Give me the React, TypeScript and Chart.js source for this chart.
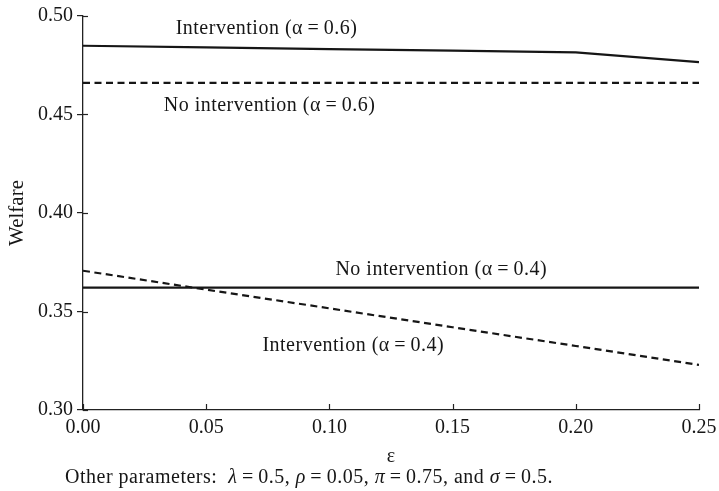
import React, { useEffect, useRef } from "react";
import { Chart, registerables } from "chart.js";

Chart.register(...registerables);

// ---- data ----
const epsilon = [0, 0.05, 0.1, 0.15, 0.2, 0.25];
const interventionHigh = [0.4849, 0.4841, 0.4832, 0.4824, 0.4815, 0.4766];
const noInterventionHigh = [0.4661, 0.4661, 0.4661, 0.4661, 0.4661, 0.4661];
const noInterventionLow = [0.3621, 0.3621, 0.3621, 0.3621, 0.3621, 0.3621];
const interventionLow = [0.3707, 0.3611, 0.3516, 0.342, 0.3325, 0.3229];

const xTicks = [0, 0.05, 0.1, 0.15, 0.2, 0.25];
const yTicks = [0.3, 0.35, 0.4, 0.45, 0.5];

const seriesLabels = [
  "Intervention (α\u2009=\u20090.6)",
  "No intervention (α\u2009=\u20090.6)",
  "No intervention (α\u2009=\u20090.4)",
  "Intervention (α\u2009=\u20090.4)",
];
// label anchors in data units (ε, welfare)
const labelEps = [0.0745, 0.0757, 0.1454, 0.1097];
const labelWelfare = [0.4937, 0.4545, 0.371, 0.3324];

const xTitle = "ε";
const yTitle = "Welfare";
const footnote: { t: string; i?: boolean }[] = [
  { t: "Other parameters:  " },
  { t: "λ", i: true },
  { t: "\u2009=\u20090.5, " },
  { t: "ρ", i: true },
  { t: "\u2009=\u20090.05, " },
  { t: "π", i: true },
  { t: "\u2009=\u20090.75, and " },
  { t: "σ", i: true },
  { t: "\u2009=\u20090.5." },
];

const FONT = '"Liberation Serif", "DejaVu Serif", serif';
const INK = "#161616";

const pts = (ys: number[]) => epsilon.map((x, i) => ({ x, y: ys[i] }));

const overlayPlugin = {
  id: "overlay",
  afterDraw(chart: any) {
    const { ctx, scales } = chart;
    const x = scales.x;
    const y = scales.y;
    ctx.save();
    // inner tick marks
    ctx.strokeStyle = "#222";
    ctx.lineWidth = 1.2;
    for (const v of yTicks) {
      const py = Math.round(y.getPixelForValue(v)) + 0.5;
      ctx.beginPath();
      ctx.moveTo(x.left, py);
      ctx.lineTo(x.left + 5, py);
      ctx.stroke();
    }
    for (const v of xTicks) {
      const px = Math.round(x.getPixelForValue(v)) + 0.5;
      ctx.beginPath();
      ctx.moveTo(px, y.bottom);
      ctx.lineTo(px, y.bottom - 6);
      ctx.stroke();
    }
    // series labels
    ctx.fillStyle = INK;
    ctx.font = `20px ${FONT}`;
    try {
      (ctx as any).letterSpacing = "0.5px";
    } catch (e) {}
    ctx.textAlign = "center";
    ctx.textBaseline = "middle";
    seriesLabels.forEach((t, i) => {
      ctx.fillText(t, x.getPixelForValue(labelEps[i]), y.getPixelForValue(labelWelfare[i]));
    });
    // footnote
    ctx.textAlign = "left";
    let cx = 65;
    const fy = chart.height - 13;
    for (const seg of footnote) {
      ctx.font = `${seg.i ? "italic " : ""}20px ${FONT}`;
      ctx.fillText(seg.t, cx, fy);
      cx += ctx.measureText(seg.t).width;
    }
    ctx.restore();
  },
};

export default function App() {
  const ref = useRef<HTMLCanvasElement | null>(null);
  useEffect(() => {
    if (!ref.current) return;
    const lineBase = {
      borderColor: INK,
      borderWidth: 2.2,
      pointRadius: 0,
      fill: false,
      tension: 0,
    };
    const chart = new Chart(ref.current, {
      type: "line",
      data: {
        datasets: [
          { ...lineBase, label: seriesLabels[0], data: pts(interventionHigh) },
          { ...lineBase, label: seriesLabels[1], data: pts(noInterventionHigh), borderDash: [7, 4.5] },
          { ...lineBase, label: seriesLabels[2], data: pts(noInterventionLow) },
          { ...lineBase, label: seriesLabels[3], data: pts(interventionLow), borderDash: [7, 4.5] },
        ],
      },
      options: {
        animation: false,
        responsive: false,
        devicePixelRatio: 1,
        layout: { padding: { top: 16, right: 20, left: 0, bottom: 0 } },
        plugins: { legend: { display: false }, tooltip: { enabled: false } },
        scales: {
          x: {
            type: "linear",
            min: 0,
            max: 0.25,
            afterFit: (s: any) => {
              s.height = 81;
            },
            afterBuildTicks: (s: any) => {
              s.ticks = xTicks.map((v) => ({ value: v }));
            },
            grid: { display: false },
            border: { display: true, color: "#222", width: 1.3 },
            ticks: {
              color: INK,
              padding: -2,
              maxRotation: 0,
              font: { family: FONT, size: 20 },
              callback: (v: any) => Number(v).toFixed(2),
            },
            title: {
              display: true,
              text: xTitle,
              color: INK,
              font: { family: FONT, size: 20 },
              padding: { top: 0, bottom: 22 },
            },
          },
          y: {
            type: "linear",
            min: 0.3,
            max: 0.5,
            afterFit: (s: any) => {
              s.width = 83;
            },
            afterBuildTicks: (s: any) => {
              s.ticks = yTicks.map((v) => ({ value: v }));
            },
            grid: {
              display: true,
              drawOnChartArea: false,
              drawTicks: true,
              tickLength: 6,
              color: "#222",
              lineWidth: 1.2,
            },
            border: { display: true, color: "#222", width: 1.3 },
            ticks: {
              color: INK,
              padding: 4,
              font: { family: FONT, size: 20 },
              callback: (v: any) => Number(v).toFixed(2),
            },
            title: {
              display: true,
              text: yTitle,
              color: INK,
              font: { family: FONT, size: 21 },
              padding: { top: 5, bottom: 0 },
            },
          },
        },
      },
      plugins: [overlayPlugin],
    } as any);
    return () => chart.destroy();
  }, []);
  return (
    <div style={{ position: "absolute", left: 0, top: 0, width: 719, height: 491, background: "#fff" }}>
      <canvas ref={ref} width={719} height={491} style={{ width: 719, height: 491, display: "block" }} />
    </div>
  );
}
